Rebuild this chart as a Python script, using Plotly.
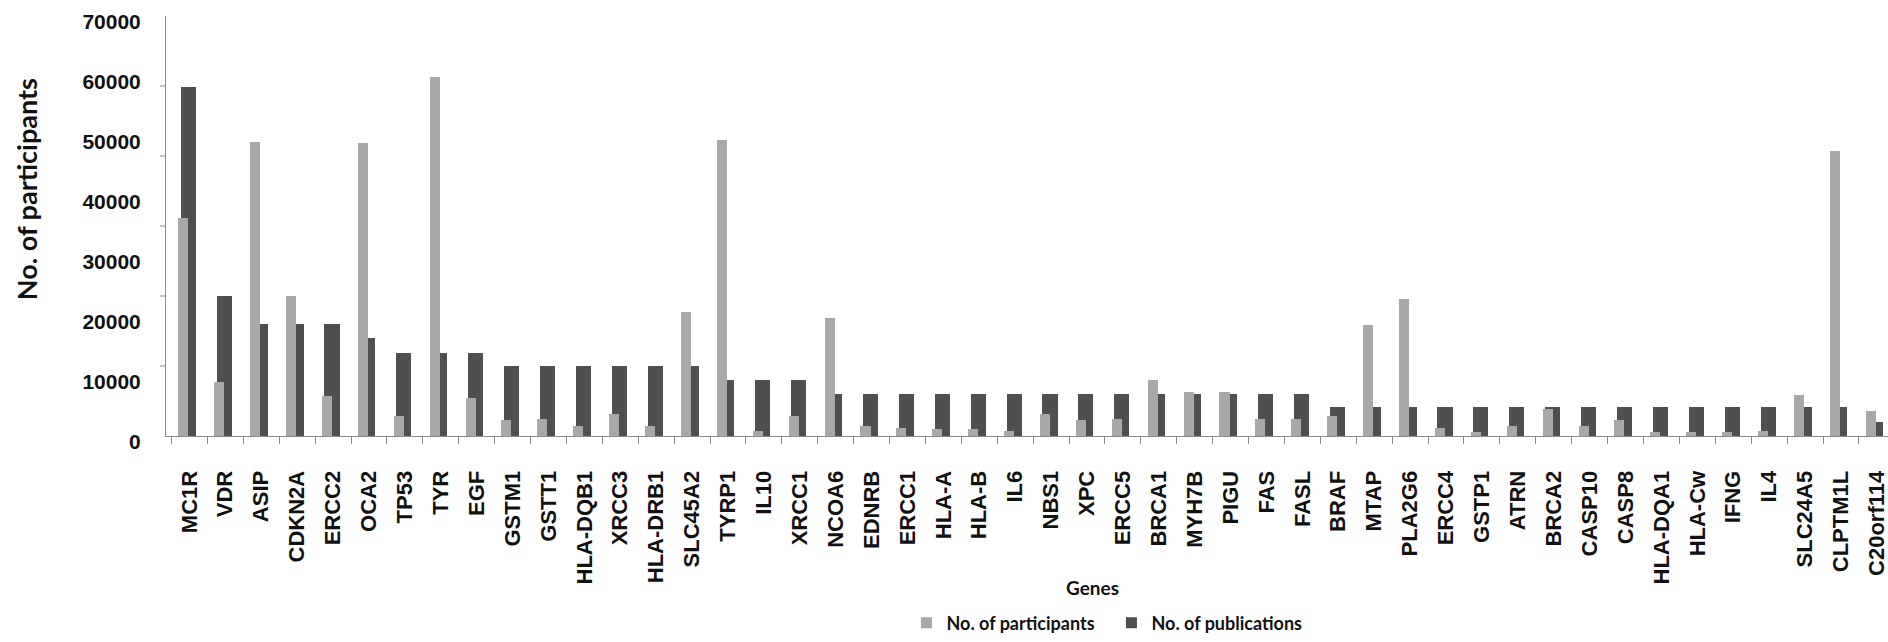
import plotly.graph_objects as go

# Genes on the x axis
genes = [
    "MC1R", "VDR", "ASIP", "CDKN2A", "ERCC2", "OCA2", "TP53", "TYR", "EGF",
    "GSTM1", "GSTT1", "HLA-DQB1", "XRCC3", "HLA-DRB1", "SLC45A2", "TYRP1",
    "IL10", "XRCC1", "NCOA6", "EDNRB", "ERCC1", "HLA-A", "HLA-B", "IL6",
    "NBS1", "XPC", "ERCC5", "BRCA1", "MYH7B", "PIGU", "FAS", "FASL", "BRAF",
    "MTAP", "PLA2G6", "ERCC4", "GSTP1", "ATRN", "BRCA2", "CASP10", "CASP8",
    "HLA-DQA1", "HLA-Cw", "IFNG", "IL4", "SLC24A5", "CLPTM1L", "C20orf114",
]

# Number of participants per gene
participants = [
    36300, 9000, 49000, 23300, 6600, 48800, 3400, 59900, 6300,
    2600, 2900, 1600, 3700, 1600, 20700, 49300,
    900, 3400, 19600, 1600, 1300, 1100, 1100, 800,
    3700, 2700, 2900, 9400, 7400, 7400, 2900, 2900, 3400,
    18500, 22900, 1300, 600, 1600, 4500, 1600, 2700,
    600, 600, 600, 900, 6900, 47500, 4200,
]

# Number of publications per gene (plotted on the same scale)
publications = [
    58100, 23300, 18600, 18600, 18600, 16300, 13900, 13900, 13900,
    11700, 11700, 11700, 11700, 11700, 11700, 9400,
    9400, 9400, 7050, 7050, 7050, 7050, 7050, 7050,
    7050, 7050, 7050, 7050, 7050, 7050, 7050, 7050, 4760,
    4760, 4760, 4760, 4760, 4760, 4760, 4760, 4760,
    4760, 4760, 4760, 4760, 4760, 4760, 2400,
]

y_ticks = [0, 10000, 20000, 30000, 40000, 50000, 60000, 70000]
y_max = 70000

LIGHT = "#a8a8a8"
DARK = "#4f4f4f"
AXIS = "#8a8a8a"
TXT = "#111111"

fig = go.Figure()

# Publications bar sits behind, participants bar is drawn in front of it
fig.add_trace(go.Bar(
    x=genes, y=publications, name="No. of publications",
    marker=dict(color=DARK, line=dict(width=0)),
    width=0.42, offset=-0.24, showlegend=False,
))
fig.add_trace(go.Bar(
    x=genes, y=participants, name="No. of participants",
    marker=dict(color=LIGHT, line=dict(width=0)),
    width=0.28, offset=-0.31, showlegend=False,
))

# square legend keys
for name, col in [("No. of participants", LIGHT), ("No. of publications", DARK)]:
    fig.add_trace(go.Scatter(
        x=[None], y=[None], mode="markers", name=name,
        marker=dict(symbol="square", size=11, color=col),
    ))

# short tick marks on the value axis, six even steps
tick_marks = [
    dict(type="line", xref="paper", yref="y", x0=-0.0035, x1=0,
         y0=k * y_max / 6, y1=k * y_max / 6,
         line=dict(color=AXIS, width=1))
    for k in range(1, 6)
]

fig.update_layout(
    width=1888, height=642,
    margin=dict(l=166, r=0, t=16, b=204),
    paper_bgcolor="white", plot_bgcolor="white",
    barmode="overlay",
    bargap=0,
    showlegend=True,
    legend=dict(
        orientation="h", x=0.430, xanchor="left", y=-0.4455, yanchor="middle",
        font=dict(family="Lato", size=18, color=TXT, weight="bold"),
        traceorder="normal", entrywidth=160, entrywidthmode="pixels",
        itemclick=False, itemdoubleclick=False, bgcolor="rgba(0,0,0,0)",
    ),
    xaxis=dict(
        type="category", range=[-0.653, 47.31],
        showline=True, linecolor=AXIS, linewidth=1,
        ticks="outside", tickson="boundaries", ticklen=7, tickcolor=AXIS,
        tickangle=-90, showgrid=False, zeroline=False,
        tickfont=dict(family="Liberation Sans", size=22, color=TXT, weight="bold"),
        ticklabelstandoff=25,
    ),
    yaxis=dict(
        range=[0, y_max], tickvals=y_ticks, ticktext=[str(v) for v in y_ticks],
        showline=True, linecolor=AXIS, linewidth=1,
        ticks="", showgrid=False, zeroline=False,
        tickfont=dict(family="Liberation Sans", size=21, color=TXT, weight="bold"),
        ticklabelstandoff=20, ticklabelshift=6, ticklabeloverflow="allow",
    ),
    shapes=tick_marks,
    annotations=[
        dict(text="No. of participants", textangle=-90, showarrow=False,
             xref="paper", yref="paper", x=-0.0813, y=0.5877,
             xanchor="center", yanchor="middle",
             font=dict(family="Lato", size=27, color=TXT, weight="bold")),
        dict(text="Genes", showarrow=False,
             xref="paper", yref="paper", x=0.5378, y=-0.360,
             xanchor="center", yanchor="middle",
             font=dict(family="Lato", size=19, color=TXT, weight="bold")),
    ],
)

fig.write_html("out.html")
